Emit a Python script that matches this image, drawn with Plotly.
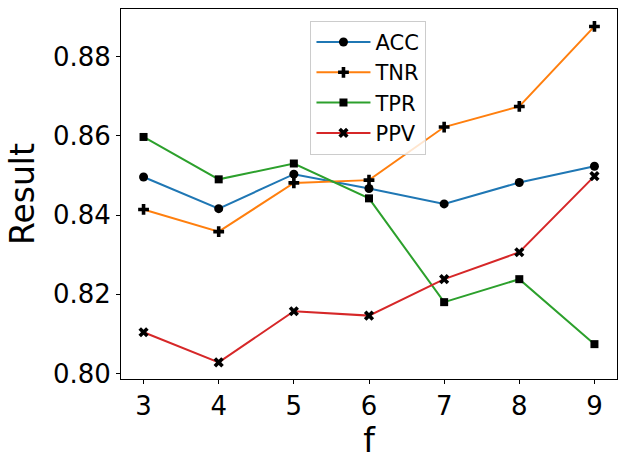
import plotly.graph_objects as go

# values
f_values = [3, 4, 5, 6, 7, 8, 9]
acc = [0.8496, 0.8416, 0.8503, 0.8467, 0.8428, 0.8482, 0.8523]
tnr = [0.8414, 0.8358, 0.8481, 0.8488, 0.8622, 0.8674, 0.8876]
tpr = [0.8597, 0.8490, 0.8530, 0.8442, 0.8180, 0.8238, 0.8074]
ppv = [0.8104, 0.8028, 0.8157, 0.8146, 0.8238, 0.8306, 0.8498]

y_ticks = [0.80, 0.82, 0.84, 0.86, 0.88]

series = [
    ('ACC', acc, '#1f77b4', 'circle', 9),
    ('TNR', tnr, '#ff7f0e', 'cross', 9),
    ('TPR', tpr, '#2ca02c', 'square', 8),
    ('PPV', ppv, '#d62728', 'x', 9),
]

fig = go.Figure()
for name, vals, color, symbol, size in series:
    fig.add_trace(go.Scatter(
        x=f_values, y=vals, name=name,
        mode='lines+markers',
        line=dict(color=color, width=2),
        marker=dict(symbol=symbol, size=size, color='black'),
    ))

fig.update_layout(
    width=627,
    height=466,
    plot_bgcolor='white',
    paper_bgcolor='white',
    font=dict(family='DejaVu Sans', color='black'),
    margin=dict(l=121, r=10, t=9, b=87),
    showlegend=True,
    legend=dict(
        x=0.382, y=0.968, xanchor='left', yanchor='top',
        font=dict(size=21),
        itemwidth=54,
        bgcolor='rgba(255,255,255,0.8)',
        bordercolor='#cccccc', borderwidth=1,
    ),
    xaxis=dict(
        range=[2.7, 9.3],
        tickmode='array', tickvals=f_values,
        ticks='outside', ticklen=4, tickcolor='black',
        tickfont=dict(size=26),
        showline=True, linecolor='black', linewidth=1, mirror=True,
        showgrid=False, zeroline=False,
        title=dict(text='f', font=dict(size=33), standoff=4),
    ),
    yaxis=dict(
        range=[0.7986, 0.8920],
        tickmode='array', tickvals=y_ticks, tickformat='.2f',
        ticks='outside', ticklen=4, tickcolor='black',
        tickfont=dict(size=26),
        showline=True, linecolor='black', linewidth=1, mirror=True,
        showgrid=False, zeroline=False,
        title=dict(text='Result', font=dict(size=33), standoff=8),
    ),
)

# drop the default page margin so the figure sits at the window corner
fig.write_html('out.html', config={'displayModeBar': False},
               post_script="document.body.style.margin='0';")
